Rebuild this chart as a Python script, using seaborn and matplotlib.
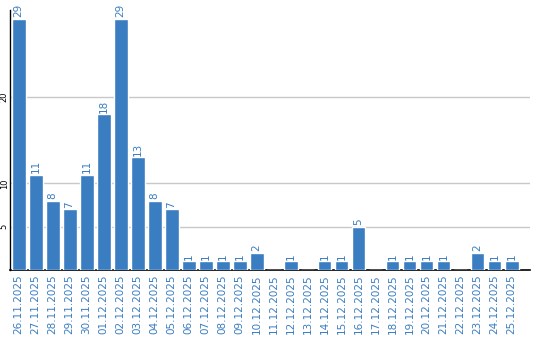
import matplotlib
matplotlib.use("Agg")
import matplotlib.pyplot as plt
import seaborn as sns
import pandas as pd

dates = ["26.11.2025", "27.11.2025", "28.11.2025", "29.11.2025", "30.11.2025",
         "01.12.2025", "02.12.2025", "03.12.2025", "04.12.2025", "05.12.2025",
         "06.12.2025", "07.12.2025", "08.12.2025", "09.12.2025", "10.12.2025",
         "11.12.2025", "12.12.2025", "13.12.2025", "14.12.2025", "15.12.2025",
         "16.12.2025", "17.12.2025", "18.12.2025", "19.12.2025", "20.12.2025",
         "21.12.2025", "22.12.2025", "23.12.2025", "24.12.2025", "25.12.2025"]
values = [29, 11, 8, 7, 11, 18, 29, 13, 8, 7,
          1, 1, 1, 1, 2, 0, 1, 0, 1, 1,
          5, 0, 1, 1, 1, 1, 0, 2, 1, 1]
y_ticks = [5, 10, 20]

bar_color = "#3a7dc1"
text_color = "#3a7dc1"

sns.set_theme(style="white")
plt.rcParams['font.family'] = ['DejaVu Sans']

df = pd.DataFrame({"date": dates, "value": values})

fig = plt.figure(figsize=(5.4, 3.4), dpi=100)
ax = fig.add_axes([10/540, 1 - 270/340, 520/540, 260/340])
ax.set_axisbelow(True)

sns.barplot(data=df, x="date", y="value", color=bar_color, saturation=1,
            width=14/17, ax=ax, zorder=3)

ax.set_ylim(0, 30)
ax.set_xlim(-0.5, 29.5 + 10/17)
ax.set_yticks(y_ticks)
ax.set_yticklabels([str(t) for t in y_ticks], rotation=90, fontsize=6,
                   va="center", color="black")
ax.tick_params(axis="y", length=0, pad=1)
ax.tick_params(axis="x", length=0, pad=3)
ax.set_xticks(range(len(dates)))
ax.set_xticklabels(dates, rotation=90, fontsize=7.5, color=text_color)
ax.set_xlabel("")
ax.set_ylabel("")

ax.grid(axis="y", color="#c8c8c8", linewidth=1, zorder=0)
ax.grid(axis="x", visible=False)

for s in ["top", "right"]:
    ax.spines[s].set_visible(False)
ax.spines["left"].set_color("black")
ax.spines["left"].set_linewidth(1)
ax.spines["bottom"].set_color("black")
ax.spines["bottom"].set_linewidth(1.2)

for i, v in enumerate(values):
    if v > 0:
        ax.annotate(str(v), (i, v), xytext=(0, 1), textcoords="offset points",
                    rotation=90, ha="center", va="bottom", fontsize=7.5,
                    color=text_color, zorder=4)

fig.savefig("out.png", dpi=100)
